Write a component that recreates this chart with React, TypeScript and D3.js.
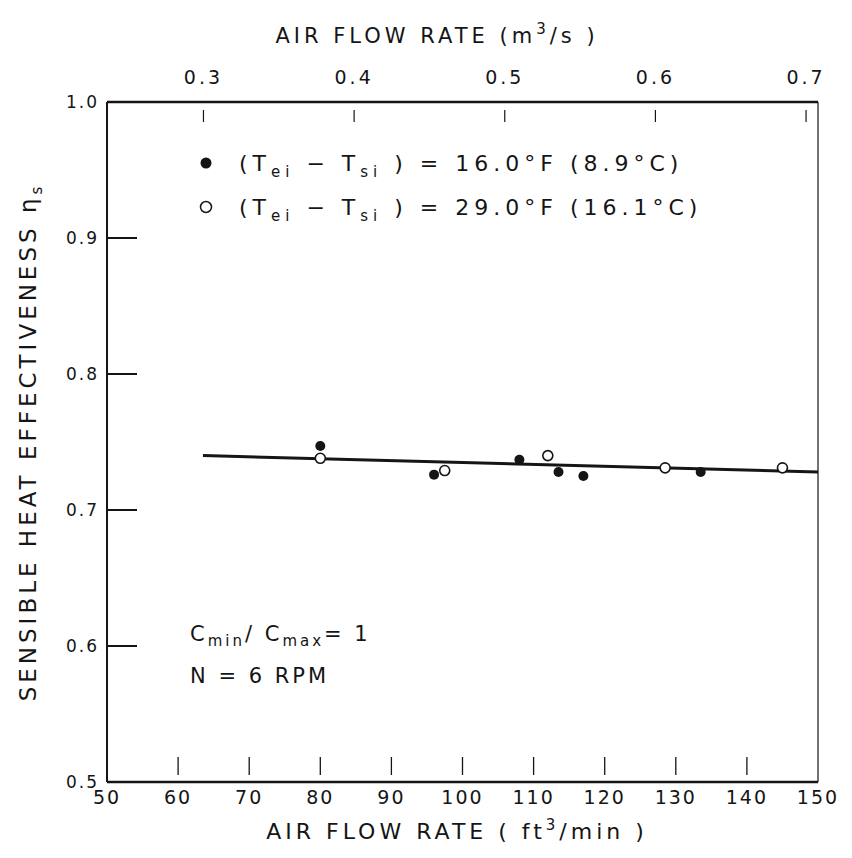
import React from "react";
import * as d3 from "d3";

const xTicks = [50, 60, 70, 80, 90, 100, 110, 120, 130, 140, 150];
const yTicks = [0.5, 0.6, 0.7, 0.8, 0.9, 1.0];
const topTicks = [0.3, 0.4, 0.5, 0.6, 0.7];

// filled circles: (Tei - Tsi) = 16.0 F
const filledX = [80, 96, 108, 113.5, 117, 133.5];
const filledY = [0.747, 0.726, 0.737, 0.728, 0.725, 0.728];
// open circles: (Tei - Tsi) = 29.0 F
const openX = [80, 97.5, 112, 128.5, 145];
const openY = [0.738, 0.729, 0.740, 0.731, 0.731];
// fitted line
const fitX = [63.5, 150];
const fitY = [0.740, 0.728];

const CFM_PER_M3S = 211.888; // top axis labels (x0.1 m3/s)

const W = 852;
const H = 858;
const L = 107, R = 818, T = 102, B = 782;
const FONT = "'DejaVu Sans', sans-serif";

export default function App() {
  const x = d3.scaleLinear().domain([50, 150]).range([L, R]);
  const y = d3.scaleLinear().domain([0.5, 1.0]).range([B, T]);
  const xTop = d3
    .scaleLinear()
    .domain([50 / CFM_PER_M3S, 150 / CFM_PER_M3S])
    .range([L, R]);
  const line = d3
    .line<number>()
    .x((d, i) => x(fitX[i]))
    .y((d) => y(d));

  const ink = "#151515";
  const pre = { whiteSpace: "pre" as const };

  return (
    <svg
      width={W}
      height={H}
      style={{ position: "absolute", left: 0, top: 0, background: "#fff" }}
      fontFamily={FONT}
    >
      <rect x={0} y={0} width={W} height={H} fill="#fff" />
      {/* frame */}
      <line x1={L} x2={R} y1={T} y2={T} stroke={ink} strokeWidth={2.5} />
      <line x1={L} x2={R} y1={B} y2={B} stroke={ink} strokeWidth={2.5} />
      <line x1={L} x2={L} y1={T} y2={B} stroke={ink} strokeWidth={2} />
      <line x1={R} x2={R} y1={T} y2={B} stroke={ink} strokeWidth={1.2} />

      {/* left ticks */}
      {yTicks
        .filter((v) => v > 0.5 && v < 1.0)
        .map((v) => (
          <line key={"yt" + v} x1={L} x2={L + 30} y1={y(v)} y2={y(v)} stroke={ink} strokeWidth={2} />
        ))}
      {yTicks.map((v) => (
        <text
          key={"yl" + v}
          x={L - 8}
          y={y(v)}
          dy="0.35em"
          textAnchor="end"
          fontSize={17}
          letterSpacing={2}
          fill={ink}
        >
          {v.toFixed(1)}
        </text>
      ))}

      {/* bottom ticks */}
      {xTicks
        .filter((v) => v > 50 && v < 150)
        .map((v) => (
          <line key={"xt" + v} x1={x(v)} x2={x(v)} y1={B - 25} y2={B - 7} stroke={ink} strokeWidth={1.3} />
        ))}
      {xTicks.map((v) => (
        <text key={"xl" + v} x={x(v)} y={B + 22} textAnchor="middle" fontSize={19} letterSpacing={2} fill={ink}>
          {v}
        </text>
      ))}
      <text x={457} y={B + 57} textAnchor="middle" fontSize={22} letterSpacing={4} fill={ink} style={pre}>
        AIR FLOW RATE ( ft
        <tspan dy={-9} fontSize={15}>3</tspan>
        <tspan dy={9}>/min )</tspan>
      </text>

      {/* top ticks */}
      {topTicks.map((v) => (
        <line key={"tt" + v} x1={xTop(v)} x2={xTop(v)} y1={T + 8} y2={T + 20} stroke={ink} strokeWidth={1.2} />
      ))}
      {topTicks.map((v) => (
        <text key={"tl" + v} x={xTop(v)} y={T - 18} textAnchor="middle" fontSize={19} letterSpacing={3} fill={ink}>
          {v.toFixed(1)}
        </text>
      ))}
      <text x={437} y={43} textAnchor="middle" fontSize={21} letterSpacing={4} fill={ink} style={pre}>
        AIR FLOW RATE (m
        <tspan dy={-9} fontSize={15}>3</tspan>
        <tspan dy={9}>/s )</tspan>
      </text>

      {/* y-axis title */}
      <text
        transform={`translate(36,${(T + B) / 2}) rotate(-90)`}
        textAnchor="middle"
        fontSize={23}
        letterSpacing={4}
        fill={ink}
      >
        SENSIBLE HEAT EFFECTIVENESS η
        <tspan dy={6} fontSize={15}>s</tspan>
      </text>

      {/* legend */}
      <circle cx={206} cy={163} r={5.5} fill={ink} />
      <text x={239} y={171} fontSize={22} letterSpacing={5} fill={ink} style={pre}>
        (T<tspan dy={6} fontSize={15}>ei</tspan>
        <tspan dy={-6}> − T</tspan>
        <tspan dy={6} fontSize={15}>si</tspan>
        <tspan dy={-6}> ) = 16.0°F (8.9°C)</tspan>
      </text>
      <circle cx={206} cy={207} r={5.5} fill="#fff" stroke={ink} strokeWidth={1.5} />
      <text x={239} y={215} fontSize={22} letterSpacing={5} fill={ink} style={pre}>
        (T<tspan dy={6} fontSize={15}>ei</tspan>
        <tspan dy={-6}> − T</tspan>
        <tspan dy={6} fontSize={15}>si</tspan>
        <tspan dy={-6}> ) = 29.0°F (16.1°C)</tspan>
      </text>

      {/* annotation */}
      <text x={190} y={641} fontSize={21} letterSpacing={3} fill={ink} style={pre}>
        C<tspan dy={5} fontSize={15}>min</tspan>
        <tspan dy={-5}>/ C</tspan>
        <tspan dy={5} fontSize={15}>max</tspan>
        <tspan dy={-5}>= 1</tspan>
      </text>
      <text x={190} y={683} fontSize={21} letterSpacing={3} fill={ink} style={pre}>
        N = 6 RPM
      </text>

      {/* fitted line */}
      <path d={line(fitY) || ""} fill="none" stroke={ink} strokeWidth={3} />

      {/* points */}
      {filledX.map((v, i) => (
        <circle key={"f" + i} cx={x(v)} cy={y(filledY[i])} r={5} fill={ink} />
      ))}
      {openX.map((v, i) => (
        <circle key={"o" + i} cx={x(v)} cy={y(openY[i])} r={5} fill="#fff" stroke={ink} strokeWidth={1.6} />
      ))}
    </svg>
  );
}
